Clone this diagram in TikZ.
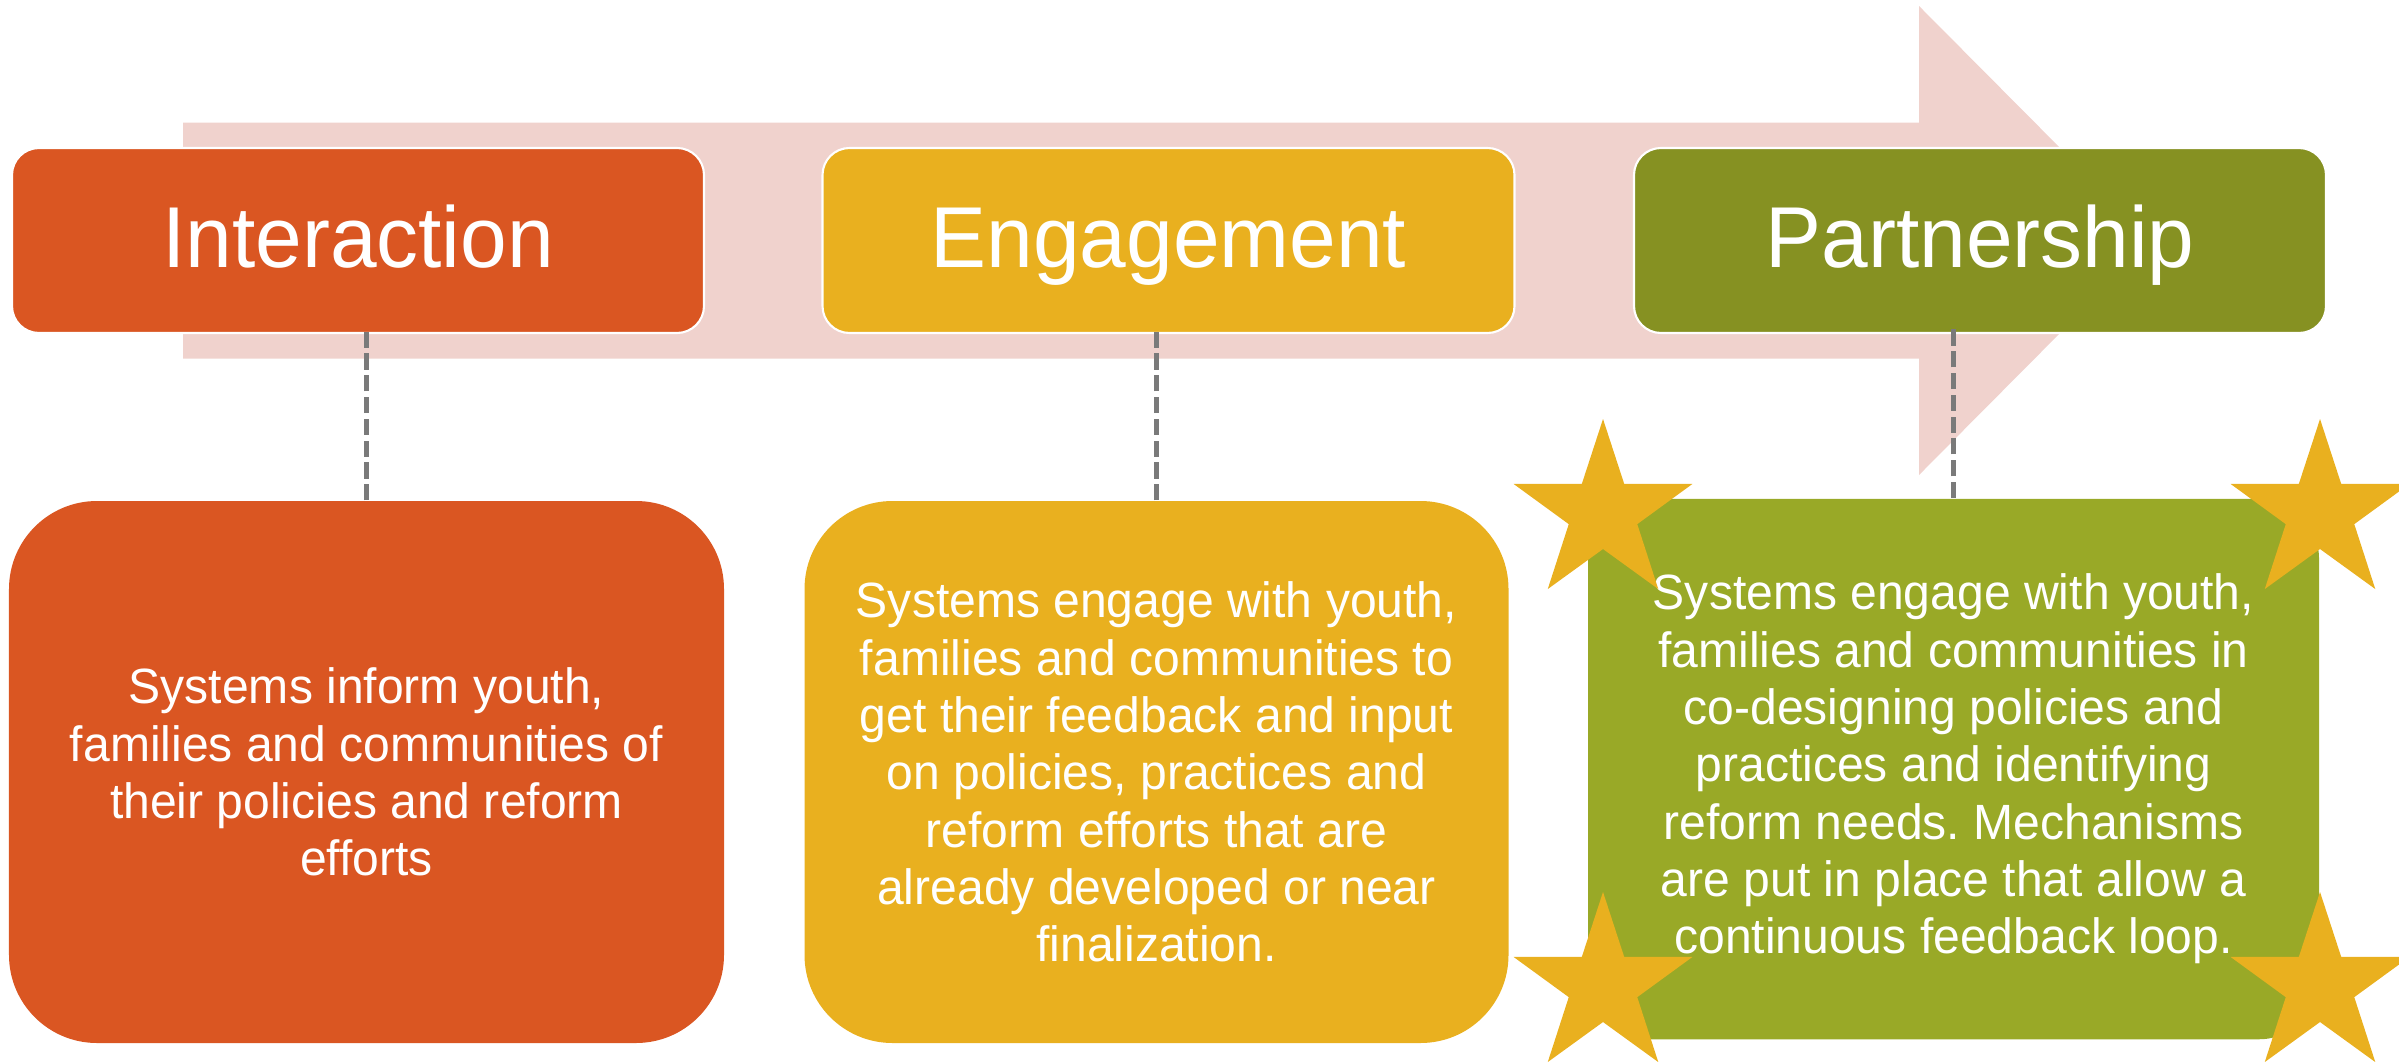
\documentclass[tikz,border=0pt]{standalone}
\usepackage{fontspec}
\setmainfont{Liberation Sans}[FakeStretch=0.97]
\usetikzlibrary{shapes.geometric}
\definecolor{interorange}{RGB}{218,86,34}
\definecolor{engagegold}{RGB}{233,176,31}
\definecolor{partnerolive}{RGB}{134,145,34}
\definecolor{partnerlight}{RGB}{153,169,39}
\definecolor{arrowpink}{RGB}{240,210,205}
\definecolor{dashgray}{RGB}{122,122,122}
\tikzset{
  stage/.style={draw=white, line width=0.6pt, rounded corners=0.27cm,
    minimum width=6.92cm, minimum height=1.85cm, text=white,
    text height=0.62cm, text depth=0.09cm, font=\fontsize{24.6}{29}\selectfont},
  detail/.style={rounded corners=0.88cm, minimum height=5.42cm, text=white,
    align=center, font=\fontsize{14.1}{16.3}\selectfont\frenchspacing},
  link/.style={draw=dashgray, line width=1.3pt, dash pattern=on 4.6pt off 1.6pt},
  goldstar/.style={star, star points=5, star point ratio=2.61,
    minimum size=1.88cm, inner sep=0pt, fill=engagegold}
}

\begin{document}
\begin{tikzpicture}
  \useasboundingbox (0,0) rectangle (23.99,10.61);
  % big arrow behind the three stages
  \fill[arrowpink] (1.83,7.025) -- (19.19,7.025) -- (19.19,5.86) -- (21.52,8.205)
    -- (19.19,10.55) -- (19.19,9.385) -- (1.83,9.385) -- cycle;

  \node[stage, fill=interorange] (interaction) at (3.58,8.205) {Interaction};
  \node[stage, fill=engagegold] (engagement) at (11.685,8.205) {Engagement};
  \node[stage, fill=partnerolive] (partnership) at (19.80,8.205) {Partnership};

  \node[detail, fill=interorange, minimum width=7.15cm] (interactiondesc) at (3.665,2.89) {
    Systems inform youth,\\
    families and communities of\\
    their policies and reform\\
    efforts};
  \node[detail, fill=engagegold, minimum width=7.04cm] (engagementdesc) at (11.565,2.89) {
    Systems engage with youth,\\
    families and communities to\\
    get their feedback and input\\
    on policies, practices and\\
    reform efforts that are\\
    already developed or near\\
    finalization.};
  \node[detail, fill=partnerlight, rounded corners=0.6cm, minimum width=7.31cm,
    minimum height=5.405cm] (partnershipdesc) at (19.535,2.92) {
    Systems engage with youth,\\
    families and communities in\\
    co-designing policies and\\
    practices and identifying\\
    reform needs. Mechanisms\\
    are put in place that allow a\\
    continuous feedback loop.};

  \draw[link] (interactiondesc.north) -- ([yshift=0.06cm]interactiondesc.north |- interaction.south);
  \draw[link] (engagementdesc.north) -- ([yshift=0.06cm]engagementdesc.north |- engagement.south);
  \draw[link] (partnershipdesc.north) -- ([yshift=0.06cm]partnershipdesc.north |- partnership.south);

  % stars round the partnership box
  \node[goldstar] (startl) at (16.03,5.48) {};
  \node[goldstar] (startr) at (23.20,5.48) {};
  \node[goldstar] (starbl) at (16.03,0.75) {};
  \node[goldstar] (starbr) at (23.20,0.75) {};
\end{tikzpicture}
\end{document}
